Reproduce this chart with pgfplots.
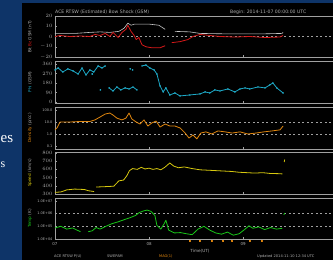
\documentclass[border=0pt]{standalone}
\usepackage{pgfplots}
\pgfplotsset{compat=1.18}
\usepackage{fontspec}
\setmainfont{DejaVu Sans}
\newfontfamily\slidefont{Liberation Serif}
\definecolor{navy}{RGB}{14,52,104}
\definecolor{framec}{RGB}{160,160,160}
\definecolor{txt}{RGB}{175,175,175}
\definecolor{bzc}{RGB}{215,25,25}
\definecolor{btc}{RGB}{200,200,200}
\definecolor{phic}{RGB}{30,170,200}
\definecolor{densc}{RGB}{225,135,15}
\definecolor{spdc}{RGB}{215,200,15}
\definecolor{tempc}{RGB}{25,200,25}
\pgfplotsset{
 panel/.style={
  scale only axis, width=290pt, anchor=south west,
  xmin=0, xmax=74,
  axis line style={draw=framec, line width=0.8pt},
  xtick={0,24,48}, xticklabels={},
  tick style={draw=framec, line width=0.4pt},
  major tick length=2pt, tick align=inside,
  ytick pos=left, xtick pos=bottom,
  yticklabel style={font=\fontsize{3.5}{4}\selectfont, text=txt, xshift=1pt},
  xticklabel style={font=\fontsize{4}{4.5}\selectfont, text=txt},
  every axis y label/.style={at={(axis description cs:0,0.5)}, xshift=-25pt, rotate=90, anchor=center, font=\fontsize{4.2}{5}\selectfont, text=txt},
  every axis plot/.append style={line width=0.8pt, line join=round},
  unbounded coords=jump,
  dashref/.style={framec, line width=0.5pt, dash pattern=on 2pt off 2.5pt},
 },
}
\begin{document}
\begin{tikzpicture}[x=1pt,y=1pt]
\useasboundingbox (0,0) rectangle (333,260);
\fill[navy] (0,0) rectangle (333,260);
\fill[black] (22,0) rectangle (333,257);
\node[anchor=west, inner sep=0, text=white, font=\slidefont\fontsize{15}{15}\selectfont] at (0.5,121) {es};
\node[anchor=west, inner sep=0, text=white, font=\slidefont\fontsize{12}{12}\selectfont] at (0.5,95) {s};

% Panel 1: Bt / Bz
\begin{axis}[panel, at={(55pt,203pt)}, height=41pt, ymin=-20, ymax=20, ytick={-20,-10,0,10,20},
  ylabel={\textcolor{btc}{Bt} \textcolor{bzc}{Bz} GSM (nT)}]
\addplot[dashref] coordinates {(0,0) (74,0)};
\addplot[btc, line width=0.6pt] coordinates {(0,3)(5.1,3)(8.9,4)(11.5,4.5)(14,4)(16.3,5)(17.6,8)(18.6,13)(19.4,11)(20.2,12)(21.7,12)(24.2,12)(26.5,11)(28.1,7) (29,nan) (30.6,5)(34.4,4.5)(37,3)(44.6,2.5)(52.3,2.5)(57.9,3)(58.2,4)};
\addplot[bzc] coordinates {(0,0)(1.3,1)(3.8,0)(6.4,0.5)(8.9,0)(10.2,2)(11.5,1)(12.8,3)(14,0)(14.8,4)(16.1,-1)(17.1,4)(18.1,7)(18.6,11)(19.4,5)(20.2,1)(20.7,-3)(21.4,-1)(22.2,-8)(23.2,-10)(24.7,-11)(26.8,-11)(28.1,-9) (29,nan) (29.8,-6)(31.9,-5)(33.9,-3)(35.2,0)(37,2)(39.5,1)(42.1,0)(45.9,-0.5)(49.7,0)(53.6,-1)(57.4,-0.5)(58.2,1)};
\end{axis}

% Panel 2: Phi
\begin{axis}[panel, at={(55pt,157pt)}, height=42pt, ymin=-10, ymax=388, ytick={0,90,180,270,360},
  ylabel={\textcolor{phic}{Phi} (GSM)}]
\addplot[phic, mark=*, mark size=0.4pt] coordinates {(0,303)(0.8,322)(2,284)(3.3,313)(4.6,294)(5.9,265)(6.9,322)(7.9,256)(8.9,303)(9.9,284)(11,341)(12,322)(12.8,341) (13.2,nan)
 (13.8,133)(14.8,104)(15.8,142)(16.8,114)(17.9,133)(18.9,123)(19.9,142)(20.9,114) (21.5,nan)
 (22.2,341)(23.2,350)(24.2,322)(25.3,303)(26,265)(26.8,152)(27.6,95)(28.3,133)(29.3,66)(30.6,85)(31.9,57)(34.4,66)(37,76)(38.3,95)(39.5,85)(40.8,114)(42.1,104)(44.1,123)(45.9,95)(47.2,123)(48.5,133)(49.7,123)(51.8,142)(53.6,133)(54.8,161)(55.6,180)(56.6,133)(58.2,85)};
\addplot[phic, only marks, mark=*, mark size=0.5pt] coordinates {(11.6,114)(19.2,313)(19.8,303)(9.5,265)};
\end{axis}

% Panel 3: Density
\begin{axis}[panel, at={(55pt,111pt)}, height=42pt, ymode=log, ymin=0.056, ymax=178,
  ytick={0.1,1,10,100}, yticklabels={0.1,1.0,10.0,100.0}, yminorticks=false,
  ylabel={\textcolor{densc}{Density} (p/cc)}]
\addplot[dashref] coordinates {(0,10) (74,10)};
\addplot[dashref] coordinates {(0,1) (74,1)};
\addplot[densc] coordinates {(0,2.2)(0.5,3.2)(1.3,10)(3.8,10)(6.4,11)(8.9,11)(10.2,15)(11.5,26)(12.8,46)(14,56)(14.8,38)(15.8,21)(17.1,15)(18.1,21)(18.9,56)(19.6,18)(20.7,10)(21.7,6.8)(22.7,15)(23.7,4.6)(24.7,8.3)(25.8,12)(26.8,3.8)(28.1,6.8)(29.3,4.6)(30.6,4.6)(31.9,3.2)(33.2,1.2)(34.2,0.46)(35.2,0.83)(36.2,0.39)(37.2,1.2)(38.5,1.5)(40,1.0)(41.6,1.8)(43.4,1.5)(45.2,1.2)(47.2,1.5)(49.2,1.0)(51.3,1.2)(53.3,1.5)(55.4,1.8)(57.4,2.2)(58.2,4.6)};
\end{axis}

% Panel 4: Speed
\begin{axis}[panel, at={(55pt,66pt)}, height=42pt, ymin=300, ymax=812, ytick={300,400,500,600,700,800},
  ylabel={\textcolor{spdc}{Speed} (km/s)}]
\addplot[spdc] coordinates {(0,320)(1.5,325)(3,350)(5,360)(7.5,355)(8.5,340)(10,330) (10.2,nan) (10.5,385)(13,390)(15,395)(16.3,460)(17.5,470)(18.3,520)(19,585)(19.8,610)(21,600)(22,625)(23,605)(24,615)(25,600)(26,610)(27,595)(28,625)(29.3,678)(30.3,640)(31.5,620)(33,630)(35,610)(37,595)(39,590)(41,585)(43,580)(45,575)(47,565)(49,560)(51,555)(53,560)(55,550)(57,548)(58,545)};
\addplot[spdc] coordinates {(58.5,690)(58.6,720)};
\end{axis}

% Panel 5: Temperature
\begin{axis}[panel, at={(55pt,21pt)}, height=41pt, ymode=log, ymin=1e4, ymax=1.7e7,
  ytick={1e4,1e5,1e6,1e7}, yticklabels={1.0E+04,1.0E+05,1.0E+06,1.0E+07}, yminorticks=false,
  xticklabels={07,08,09}, clip=false,
  xlabel={Time(UT)}, xlabel style={font=\fontsize{4.2}{5}\selectfont, text=txt, yshift=3pt},
  ylabel={\textcolor{tempc}{Temp} (K)}]
\addplot[dashref] coordinates {(0,1e6) (74,1e6)};
\addplot[dashref] coordinates {(0,1e5) (74,1e5)};
\addplot[tempc] coordinates {(0,7.4e4)(1.5,1.0e5)(3,6.0e4)(4.5,7.4e4)(5.5,5.2e4)(6.5,3.8e4) (7.2,nan) (8.5,3.8e4)(9.5,4.4e4)(10.5,8.0e4)(11.5,6.0e4)(13,1.0e5)(14.5,1.6e5)(16,2.2e5)(17.5,3.2e5)(19,4.6e5)(20.5,7e5)(21.5,1.2e6)(22.5,1.6e6)(23.5,1.9e6)(24.5,1.5e6)(25.5,7e5)(26,1.2e5)(27,6e4)(27.8,1.5e5)(28.3,3.0e5)(29,5e4)(30.5,3.0e4)(32,3.2e4)(33.5,2.6e4)(35,2.2e4)(36.5,6.0e4)(38,1.0e5)(39.5,5.0e4)(41,3.0e4)(42.5,2.4e4)(44,3.5e4)(45.5,2.0e4)(47,2.6e4)(48.5,6e4)(49.5,1.1e5)(50.5,7e4)(52,9e4)(53.5,5.5e4)(55,8e4)(56.5,6e4)(58,7e4)};
\addplot[tempc] coordinates {(58.4,8e5)(58.6,1.1e6)};
\addplot[densc, only marks, mark=square*, mark size=0.5pt] coordinates {(34.4,6.5e3)(37,6.5e3)(40,6.5e3)(42.9,6.5e3)(45.2,6.5e3)(49.7,6.5e3)(52.8,6.5e3)};
\end{axis}

% titles and footer
\node[anchor=west, inner sep=0, text=txt, font=\fontsize{4.6}{5}\selectfont] at (55,248) {ACE RTSW (Estimated) Bow Shock (GSM)};
\node[anchor=west, inner sep=0, text=txt, font=\fontsize{4.6}{5}\selectfont] at (230,248) {Begin: 2014-11-07 00:00:00 UTC};
\node[anchor=west, inner sep=0, text=txt, font=\fontsize{3.6}{4}\selectfont] at (54,3.5) {ACE RTSW P(U)};
\node[anchor=west, inner sep=0, text=txt, font=\fontsize{3.6}{4}\selectfont] at (107,3.5) {SWEPAM};
\node[anchor=west, inner sep=0, text=densc, font=\fontsize{3.6}{4}\selectfont] at (159,3.5) {MAG(1)};
\node[anchor=west, inner sep=0, text=txt, font=\fontsize{3.6}{4}\selectfont] at (257,3.5) {Updated 2014-11-10 12:34 UTC};
\end{tikzpicture}
\end{document}
